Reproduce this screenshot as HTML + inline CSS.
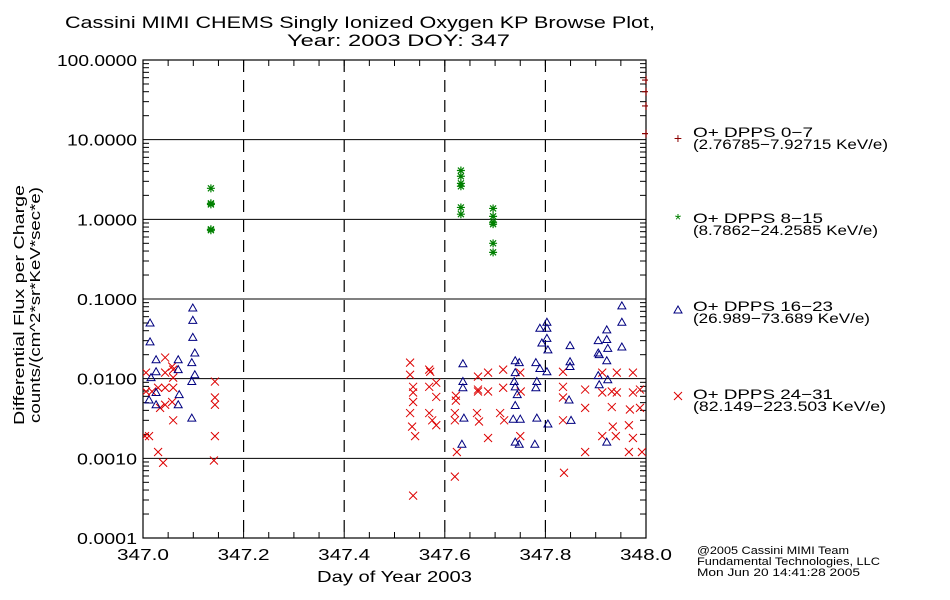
<!DOCTYPE html>
<html><head><meta charset="utf-8">
<style>
html,body{margin:0;padding:0;background:#fff;}
svg{display:block;font-family:"Liberation Sans",sans-serif;}
</style></head>
<body>
<svg id="chart" width="950" height="600" viewBox="0 0 950 600">
<text x="65" y="28" font-size="17" textLength="590" lengthAdjust="spacingAndGlyphs">Cassini MIMI CHEMS Singly Ionized Oxygen KP Browse Plot,</text>
<text x="287" y="46" font-size="17" textLength="223" lengthAdjust="spacingAndGlyphs">Year: 2003 DOY: 347</text>
<g id="plot"></g>
<text transform="translate(24,305) rotate(-90)" text-anchor="middle" font-size="15" textLength="240" lengthAdjust="spacingAndGlyphs">Differential Flux per Charge</text>
<text transform="translate(40,305) rotate(-90)" text-anchor="middle" font-size="15" textLength="236" lengthAdjust="spacingAndGlyphs">counts/(cm^2*sr*KeV*sec*e)</text>
<text x="317" y="582" font-size="16" textLength="155" lengthAdjust="spacingAndGlyphs">Day of Year 2003</text>
<g font-size="14">
<g>
<text x="678" y="143" fill="#8b0000" text-anchor="middle" font-size="14">+</text>
<text x="693" y="137" textLength="120" lengthAdjust="spacingAndGlyphs">O+ DPPS 0−7</text><text x="693" y="149" textLength="195" lengthAdjust="spacingAndGlyphs">(2.76785−7.92715 KeV/e)</text></g>
<g>
<text x="678" y="225" fill="#008000" text-anchor="middle" font-size="16">*</text>
<text x="693" y="223" textLength="130" lengthAdjust="spacingAndGlyphs">O+ DPPS 8−15</text><text x="693" y="235" textLength="185" lengthAdjust="spacingAndGlyphs">(8.7862−24.2585 KeV/e)</text></g>
<g>
<polygon points="678,306 674,313 682,313" fill="none" stroke="#000080" stroke-width="1"/>
<text x="693" y="311" textLength="140" lengthAdjust="spacingAndGlyphs">O+ DPPS 16−23</text><text x="693" y="323" textLength="177" lengthAdjust="spacingAndGlyphs">(26.989−73.689 KeV/e)</text></g>
<g>
<path d="M674,392 L682,400 M682,392 L674,400" stroke="#dd0000" stroke-width="1"/>
<text x="693" y="399" textLength="140" lengthAdjust="spacingAndGlyphs">O+ DPPS 24−31</text><text x="693" y="411" textLength="193" lengthAdjust="spacingAndGlyphs">(82.149−223.503 KeV/e)</text></g>
</g>
<g font-size="11">
<text x="697" y="554" textLength="152" lengthAdjust="spacingAndGlyphs">@2005 Cassini MIMI Team</text>
<text x="697" y="565" textLength="183" lengthAdjust="spacingAndGlyphs">Fundamental Technologies, LLC</text>
<text x="697" y="576" textLength="163" lengthAdjust="spacingAndGlyphs">Mon Jun 20 14:41:28 2005</text>
</g>
</svg>
<script>
const xTicks=[347.0,347.2,347.4,347.6,347.8,348.0];
const xTickLabels=["347.0","347.2","347.4","347.6","347.8","348.0"];
const yTicks=[0.0001,0.001,0.01,0.1,1,10,100];
const yTickLabels=["0.0001","0.0010","0.0100","0.1000","1.0000","10.0000","100.0000"];
const plusDays=[348.0,348.0,348.0,348.0];
const plusVals=[56,40,26.5,11.9];
const starDays=[347.135,347.135,347.135,347.135,347.135,347.632,347.632,347.632,347.632,347.632,347.632,347.696,347.696,347.696,347.696,347.696,347.696];
const starVals=[2.45,1.59,1.54,0.75,0.73,4.1,3.47,2.83,2.6,1.41,1.16,1.37,1.09,0.92,0.87,0.5,0.385];
const triDays=[347.014,347.014,347.026,347.026,347.016,347.026,347.012,347.026,347.070,347.070,347.072,347.070,347.099,347.099,347.099,347.103,347.097,347.103,347.097,347.097,
347.636,347.636,347.636,347.638,347.634,347.740,347.740,347.738,347.740,347.744,347.740,347.736,347.750,347.740,347.748,347.748,347.781,347.783,347.781,347.783,347.779,
347.789,347.803,347.803,347.803,347.793,347.805,347.789,347.803,347.805,347.849,347.849,347.849,347.847,347.851,347.905,347.905,347.907,347.922,347.922,347.924,347.922,347.905,347.907,347.924,347.922,347.952,347.952,347.952];
const triVals=[0.050,0.029,0.0173,0.0122,0.0103,0.0067,0.0054,0.0047,0.0173,0.0130,0.0063,0.0047,0.077,0.054,0.033,0.021,0.0159,0.0112,0.0092,0.0032,
0.0154,0.0092,0.0077,0.0032,0.0015,0.0168,0.0119,0.0092,0.0079,0.0063,0.0046,0.0031,0.0031,0.0016,0.0015,0.0159,0.0159,0.0092,0.0077,0.0032,0.0015,
0.043,0.051,0.043,0.032,0.028,0.023,0.0134,0.0122,0.0027,0.026,0.0163,0.0142,0.0054,0.0030,0.030,0.021,0.020,0.041,0.031,0.024,0.0168,0.0109,0.0084,0.0097,0.0016,0.082,0.051,0.025];
const crossDays=[347.044,347.058,347.060,347.044,347.006,347.060,347.030,347.044,347.060,347.006,347.018,347.058,347.034,347.044,347.060,347.012,347.004,347.030,347.040,347.143,347.143,347.143,347.143,347.141,
347.531,347.531,347.537,347.537,347.537,347.531,347.535,347.541,347.537,347.569,347.571,347.569,347.583,347.583,347.569,347.575,347.583,347.622,347.622,347.620,347.620,347.624,347.620,
347.666,347.666,347.666,347.664,347.668,347.686,347.686,347.686,347.716,347.716,347.710,347.718,347.750,347.751,347.750,347.835,347.835,347.835,347.835,347.837,347.879,347.879,347.879,
347.913,347.913,347.913,347.932,347.932,347.934,347.940,347.942,347.942,347.968,347.966,347.974,347.974,347.974,347.966,347.988,347.988,347.992];
const crossVals=[0.0184,0.0142,0.0130,0.0119,0.0119,0.0103,0.0077,0.0077,0.0077,0.0069,0.0069,0.0051,0.0043,0.0047,0.0030,0.0019,0.0019,0.0012,0.00088,0.0092,0.0058,0.0047,0.0019,0.00094,
0.0159,0.0112,0.0079,0.0067,0.0051,0.0037,0.0025,0.0019,0.00034,0.0130,0.0122,0.0079,0.0089,0.0059,0.0037,0.0030,0.0026,0.0061,0.0053,0.0037,0.0030,0.0012,0.00059,
0.0106,0.0073,0.0069,0.0037,0.0029,0.0119,0.0069,0.0018,0.0130,0.0077,0.0037,0.0030,0.0119,0.0069,0.0019,0.0122,0.0079,0.0058,0.0030,0.00066,0.0073,0.0043,0.0012,
0.0119,0.0067,0.0019,0.0069,0.0044,0.0025,0.0019,0.0119,0.0067,0.0041,0.0026,0.0119,0.0067,0.0018,0.0012,0.0073,0.0043,0.0012];

const X0=143,X1=646,Y0=538,Y1=60;
const xs=d=>X0+(d-347)/(348-347)*(X1-X0);
const ys=v=>Y0-(Math.log10(v)+4)/6*(Y0-Y1);
const NS="http://www.w3.org/2000/svg";
const plot=document.getElementById('plot');
function mk(tag,attrs,parent){const e=document.createElementNS(NS,tag);for(const k in attrs)e.setAttribute(k,attrs[k]);(parent||plot).appendChild(e);return e;}

const defs=mk('defs',{});
const cp=mk('clipPath',{id:'clip'},defs);
mk('rect',{x:X0,y:Y1,width:X1-X0,height:Y0-Y1},cp);

yTicks.forEach((v,i)=>{
  if(i>0&&i<yTicks.length-1){
    const l=mk('line',{x1:X0,x2:X1,y1:ys(v),y2:ys(v),stroke:'#000','stroke-width':1});
    
    
  }
  const lbl=yTickLabels[i];
  const t=mk('text',{x:X0-6-lbl.length*10,y:ys(v)+6,'font-size':16,textLength:lbl.length*10,lengthAdjust:'spacingAndGlyphs'});
  t.textContent=lbl;
  
  
  if(i<yTicks.length-1){for(let m=2;m<=9;m++){const yy=ys(v*m);
    mk('line',{x1:X0,x2:X0+6,y1:yy,y2:yy,stroke:'#000'});mk('line',{x1:X1,x2:X1-6,y1:yy,y2:yy,stroke:'#000'});}}
});
xTicks.forEach((d,i)=>{
  const x=xs(d);
  if(i>0&&i<xTicks.length-1){
    const l=mk('line',{x1:x,x2:x,y1:Y1,y2:Y0,stroke:'#000','stroke-width':1.2,'stroke-dasharray':'12,8'});
    
    
  }
  const t=mk('text',{x:x-26,y:Y0+22,'font-size':16,textLength:52,lengthAdjust:'spacingAndGlyphs'});
  t.textContent=xTickLabels[i];
  
  
});
for(let k=1;k<20;k++){const x=xs(347+k*0.05);
  mk('line',{x1:x,x2:x,y1:Y0,y2:Y0-6,stroke:'#000'});mk('line',{x1:x,x2:x,y1:Y1,y2:Y1+6,stroke:'#000'});}
const frame=mk('rect',{x:X0,y:Y1,width:X1-X0,height:Y0-Y1,fill:'none',stroke:'#000','stroke-width':1.2});



const marks=mk('g',{'clip-path':'url(#clip)'});
crossDays.forEach((d,i)=>{const x=xs(d),y=ys(crossVals[i]);
  const p=mk('path',{d:`M${x-4},${y-4}L${x+4},${y+4}M${x+4},${y-4}L${x-4},${y+4}`,stroke:'#dd0000','stroke-width':1},marks);
  
  });
triDays.forEach((d,i)=>{const x=xs(d),y=ys(triVals[i]);
  const p=mk('polygon',{points:`${x},${y-4} ${x-4},${y+3} ${x+4},${y+3}`,fill:'none',stroke:'#000080','stroke-width':1},marks);
  
  });
starDays.forEach((d,i)=>{const x=xs(d),y=ys(starVals[i]);
  const p=mk('path',{d:`M${x-4},${y}L${x+4},${y}M${x},${y-4}L${x},${y+4}M${x-3},${y-3}L${x+3},${y+3}M${x+3},${y-3}L${x-3},${y+3}`,stroke:'#008000','stroke-width':1.2},marks);
  
  });
plusDays.forEach((d,i)=>{const x=xs(d),y=ys(plusVals[i]);
  const p=mk('path',{d:`M${x-4},${y}L${x+2},${y}M${x},${y-4}L${x},${y+4}`,stroke:'#8b0000','stroke-width':1.2});
  
  });
</script>
</body></html>
